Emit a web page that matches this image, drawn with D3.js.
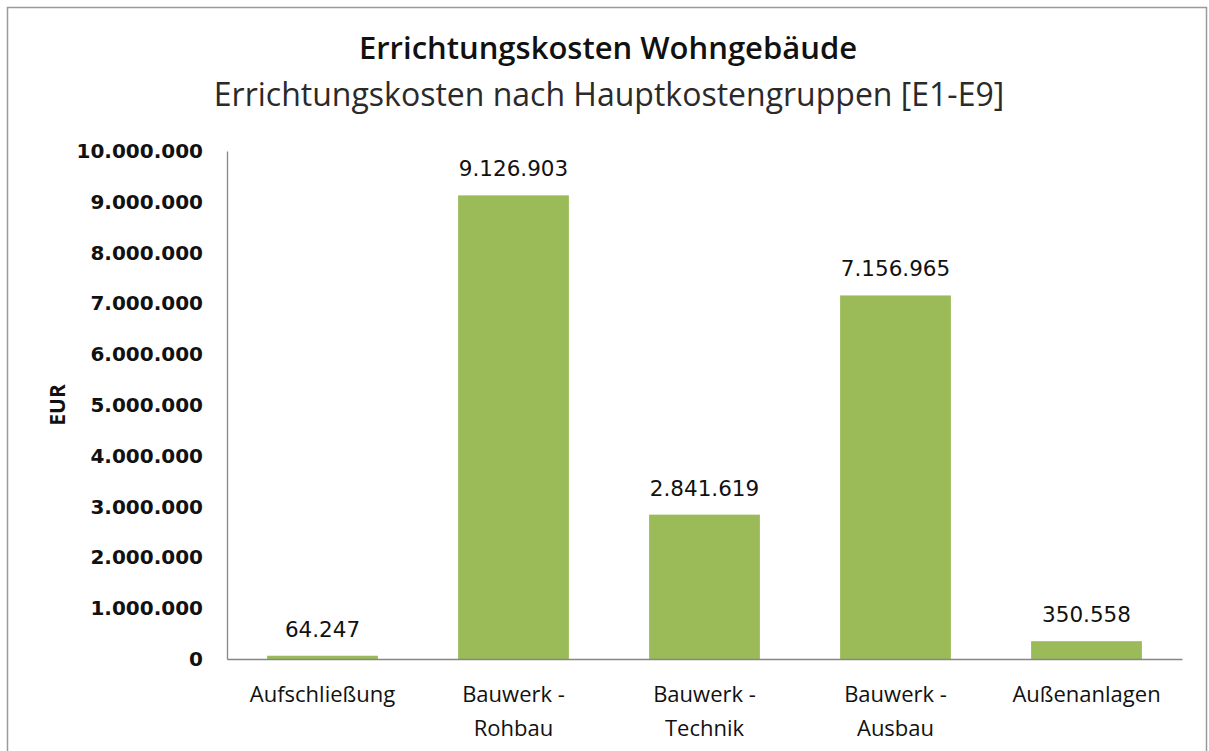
<!DOCTYPE html>
<html>
<head>
<meta charset="utf-8">
<script src="https://cdn.jsdelivr.net/npm/d3@7"></script>
<style>
  html, body { margin: 0; padding: 0; background: #fff; }
  svg { display: block; }
</style>
</head>
<body>
<svg id="chart" width="1209" height="751"></svg>
<script>
const categories = [["Aufschließung"], ["Bauwerk -", "Rohbau"], ["Bauwerk -", "Technik"], ["Bauwerk -", "Ausbau"], ["Außenanlagen"]];
const values = [64247, 9126903, 2841619, 7156965, 350558];
const yTicks = [0, 1000000, 2000000, 3000000, 4000000, 5000000, 6000000, 7000000, 8000000, 9000000, 10000000];
const titleText = "Errichtungskosten Wohngebäude";
const subtitleText = "Errichtungskosten nach Hauptkostengruppen [E1-E9]";
const yLabel = "EUR";

const W = 1209, H = 751;
const BAR_COLOR = '#9bbb59';
const AXIS_COLOR = '#868686';
const SANS = 'Open Sans, Lato, sans-serif';
const NUM = 'DejaVu Sans, sans-serif';

const margin = { left: 227, right: W - 1182, top: 151, bottom: H - 659 };

const svg = d3.select('#chart');

// chart frame (bottom edge runs off the picture)
svg.append('rect')
  .attr('x', 7.5).attr('y', 7.5)
  .attr('width', 1199).attr('height', 800)
  .attr('fill', '#fff')
  .attr('stroke', '#9a9a9a').attr('stroke-width', 1.5);

const fmt = d3.formatLocale({ decimal: ',', thousands: '.', grouping: [3], currency: ['', ' €'] }).format(',d');

const x = d3.scaleBand()
  .domain(d3.range(categories.length))
  .range([margin.left, W - margin.right])
  .paddingInner(0.42)
  .paddingOuter(0.21);

const y = d3.scaleLinear()
  .domain([0, 10000000])
  .range([H - margin.bottom, margin.top]);

// titles
svg.append('text')
  .attr('x', 608).attr('y', 59)
  .attr('text-anchor', 'middle')
  .attr('font-family', SANS).attr('font-weight', 600).attr('font-size', 31)
  .attr('fill', '#111')
  .text(titleText);

svg.append('text')
  .attr('x', 609).attr('y', 106)
  .attr('text-anchor', 'middle')
  .attr('font-family', SANS).attr('font-weight', 400).attr('font-size', 32)
  .attr('fill', '#2a2a2a')
  .text(subtitleText);

// bars
svg.append('g')
  .selectAll('rect')
  .data(values)
  .join('rect')
  .attr('x', (d, i) => x(i))
  .attr('width', x.bandwidth())
  .attr('y', d => y(d))
  .attr('height', d => y(0) - y(d))
  .attr('fill', BAR_COLOR);

// value labels
svg.append('g')
  .selectAll('text')
  .data(values)
  .join('text')
  .attr('x', (d, i) => x(i) + x.bandwidth() / 2)
  .attr('y', d => y(d) - 19)
  .attr('text-anchor', 'middle')
  .attr('font-family', NUM).attr('font-size', 21.5)
  .attr('fill', '#111')
  .text(d => fmt(d));

// y axis
svg.append('g')
  .attr('transform', `translate(${margin.left},0)`)
  .call(d3.axisLeft(y).tickValues(yTicks).tickSize(0).tickPadding(24).tickFormat(fmt))
  .call(ax => ax.select('.domain').attr('stroke', AXIS_COLOR).attr('stroke-width', 1.3))
  .call(ax => ax.selectAll('text')
    .attr('font-family', NUM).attr('font-weight', 'bold').attr('font-size', 20)
    .attr('fill', '#111'));

// x axis
const gx = svg.append('g')
  .attr('transform', `translate(0,${H - margin.bottom})`)
  .call(d3.axisBottom(x).tickSize(0).tickFormat(''))
  .call(ax => ax.select('.domain').attr('stroke', AXIS_COLOR).attr('stroke-width', 1.3));

gx.selectAll('.tick text').remove();
gx.selectAll('.tick')
  .append('text')
  .attr('text-anchor', 'middle')
  .attr('font-family', SANS).attr('font-size', 22)
  .attr('fill', '#111')
  .selectAll('tspan')
  .data(i => categories[i])
  .join('tspan')
  .attr('x', 0)
  .attr('y', (d, j) => 43 + j * 34)
  .text(d => d);

// y axis title
svg.append('text')
  .attr('transform', `translate(65,${(margin.top + H - margin.bottom) / 2}) rotate(-90)`)
  .attr('text-anchor', 'middle')
  .attr('font-family', SANS).attr('font-weight', 'bold').attr('font-size', 21)
  .attr('fill', '#111')
  .text(yLabel);
</script>
</body>
</html>
